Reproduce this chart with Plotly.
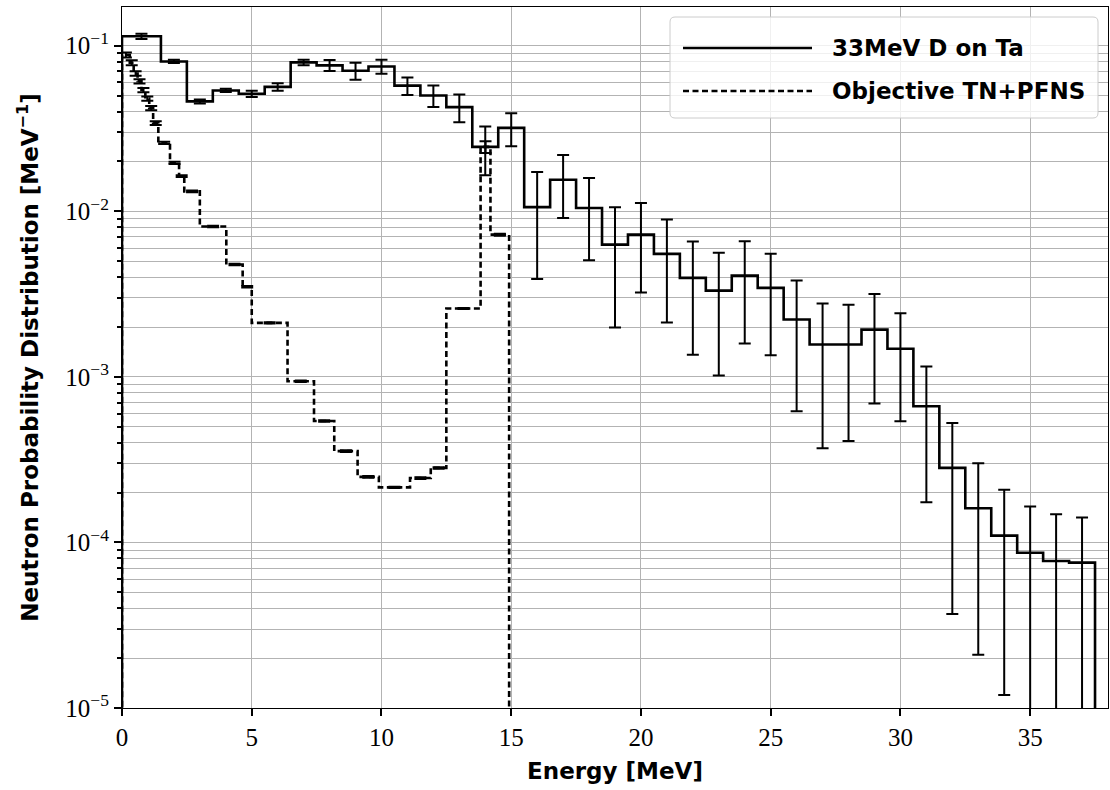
import plotly.graph_objects as go

# ---------------- data ----------------
ta_edges = [0, 1.5, 2.5, 3.5, 4.5, 5.5, 6.5, 7.5, 8.5, 9.5, 10.5, 11.5, 12.5, 13.5,
            14.5, 15.5, 16.5, 17.5, 18.5, 19.5, 20.5, 21.5, 22.5, 23.5, 24.5, 25.5,
            26.5, 27.5, 28.5, 29.5, 30.5, 31.5, 32.5, 33.5, 34.5, 35.5, 36.5, 37.5]
ta_values = [0.114, 0.0804, 0.0461, 0.0537, 0.0513, 0.0564, 0.0793, 0.0761, 0.0706,
             0.075, 0.0574, 0.0501, 0.0426, 0.0245, 0.0319, 0.0106, 0.0155, 0.01047,
             0.00629, 0.00723, 0.00553, 0.00396, 0.00332, 0.00409, 0.00345, 0.00222,
             0.00157, 0.00157, 0.00193, 0.00148, 0.000665, 0.000282, 0.000161,
             0.00011, 8.67e-5, 7.72e-5, 7.55e-5]
ta_errors = [0.0043, 0.0018, 0.0013, 0.0012, 0.0022, 0.003, 0.0031, 0.0058, 0.0082,
             0.0072, 0.007, 0.0075, 0.0081, 0.008, 0.0072, 0.0067, 0.0064, 0.0054,
             0.0043, 0.004, 0.0034, 0.0026, 0.0023, 0.0025, 0.0021, 0.0016, 0.0012,
             0.00116, 0.00124, 0.00094, 0.00049, 0.000245, 0.00014, 9.8e-5, 7.8e-5,
             7.1e-5, 6.6e-5]

obj_edges = [0, 0.3, 0.45, 0.6, 0.75, 0.9, 1.05, 1.2, 1.4, 1.85, 2.2, 2.4, 3.0, 4.02,
             4.65, 5.0, 6.38, 7.4, 8.18, 9.08, 9.9, 11.1, 11.9, 12.5, 13.82, 14.2, 14.92]
obj_values = [0.088, 0.079, 0.068, 0.061, 0.054, 0.048, 0.042, 0.0341, 0.0259, 0.0196,
              0.0163, 0.0132, 0.0081, 0.00477, 0.0035, 0.00212, 0.00094, 0.000541,
              0.000356, 0.000249, 0.000215, 0.000245, 0.000282, 0.00259, 0.0245, 0.00723]
obj_errors = [0.003, 0.0028, 0.0022, 0.0018, 0.0016, 0.0014, 0.0012, 0.0009, 0.0004,
              0.0003, 0.0002, 0.00015, 0.00008, 0.00005, 0.00004, 0.00002, 0.00001,
              0.000006, 0.000004, 0.000003, 0.000002, 0.000003, 0.000003, 0.00002,
              0.002, 0.0001]

x_ticks = [0, 5, 10, 15, 20, 25, 30, 35]
y_ticks = [1e-5, 1e-4, 1e-3, 1e-2, 1e-1]
y_ticktext = ["10<sup>\u22125</sup>", "10<sup>\u22124</sup>", "10<sup>\u22123</sup>",
              "10<sup>\u22122</sup>", "10<sup>\u22121</sup>"]

series_names = ["33MeV D on Ta", "Objective TN+PFNS"]

# ---------------- helpers ----------------
BOTTOM = 1e-7  # below the visible range so the step outline drops off the axis


def step_xy(edges, values):
    xs = [edges[0]] + list(edges[:-1]) + [edges[-1]]
    ys = [BOTTOM] + list(values) + [BOTTOM]
    return xs, ys


def centers(edges):
    return [(a + b) / 2 for a, b in zip(edges[:-1], edges[1:])]


DASH = "6px,3.5px"
fig = go.Figure()

for edges, values, errors, dash in [
    (ta_edges, ta_values, ta_errors, "solid"),
    (obj_edges, obj_values, obj_errors, DASH),
]:
    xs, ys = step_xy(edges, values)
    fig.add_trace(go.Scatter(x=xs, y=ys, mode="lines", line_shape="hv",
                             line=dict(color="black", width=2.6, dash=dash),
                             showlegend=False, hoverinfo="skip", cliponaxis=True))
    fig.add_trace(go.Scatter(x=centers(edges), y=values, mode="markers",
                             marker=dict(size=1, color="rgba(0,0,0,0)"),
                             error_y=dict(type="data", array=errors, visible=True,
                                          color="black", thickness=2, width=6),
                             showlegend=False, hoverinfo="skip"))

# ---------------- layout ----------------
W, H = 1110, 790
L, R, T, B = 122, 2, 7, 82
pw, ph = W - L - R, H - T - B


def px2x(px):
    return (px - L) / pw


def py2y(py):
    return (H - B - py) / ph


grid = "#b3b3b3"
tick_font = dict(family="Liberation Serif", size=25, color="black")
title_font = dict(family="DejaVu Sans", size=23, color="black", weight="bold")

fig.update_layout(
    width=W, height=H, margin=dict(l=L, r=R, t=T, b=B),
    plot_bgcolor="white", paper_bgcolor="white",
    xaxis=dict(range=[0, 38], tickvals=x_ticks, ticks="outside", ticklen=7,
               tickwidth=1.5, tickcolor="black", showline=True, linecolor="black",
               linewidth=1.2, mirror=True, showgrid=True, gridcolor=grid,
               gridwidth=1, zeroline=False, tickfont=tick_font,
               title=dict(text="Energy [MeV]", font=title_font, standoff=12)),
    yaxis=dict(type="log", range=[-5, -0.766], tickvals=y_ticks, ticktext=y_ticktext,
               ticks="outside", ticklen=7, tickwidth=1.5, tickcolor="black",
               showline=True, linecolor="black", linewidth=1.2, mirror=True,
               showgrid=True, gridcolor=grid, gridwidth=1, zeroline=False,
               tickfont=tick_font,
               minor=dict(dtick="D1", ticks="outside", ticklen=4, tickcolor="black",
                          showgrid=True, gridcolor=grid, gridwidth=1),
               title=dict(text="Neutron Probability Distribution [MeV<sup>\u22121</sup>]",
                          font=title_font, standoff=20)),
)

# ---------------- manual legend ----------------
bx0, bx1, by0, by1 = px2x(670), px2x(1098), py2y(118), py2y(17)
rx, ry = 5 / pw, 5 / ph
path = (f"M{bx0+rx},{by1} L{bx1-rx},{by1} Q{bx1},{by1} {bx1},{by1-ry} "
        f"L{bx1},{by0+ry} Q{bx1},{by0} {bx1-rx},{by0} L{bx0+rx},{by0} "
        f"Q{bx0},{by0} {bx0},{by0+ry} L{bx0},{by1-ry} Q{bx0},{by1} {bx0+rx},{by1} Z")
fig.add_shape(type="path", path=path, xref="paper", yref="paper",
              fillcolor="rgba(255,255,255,0.8)", line=dict(color="#cccccc", width=1),
              layer="above")

legend_rows = [(48, "solid"), (91, DASH)]
for (py, dash), name in zip(legend_rows, series_names):
    fig.add_shape(type="line", xref="paper", yref="paper", x0=px2x(683), x1=px2x(812),
                  y0=py2y(py), y1=py2y(py), line=dict(color="black", width=2.6, dash=dash),
                  layer="above")
    fig.add_annotation(text=name, xref="paper", yref="paper", x=px2x(830), y=py2y(py),
                       xanchor="left", yanchor="middle", showarrow=False,
                       font=dict(family="DejaVu Sans", size=23, color="black",
                                 weight="bold"))

fig.write_html("out.html")
